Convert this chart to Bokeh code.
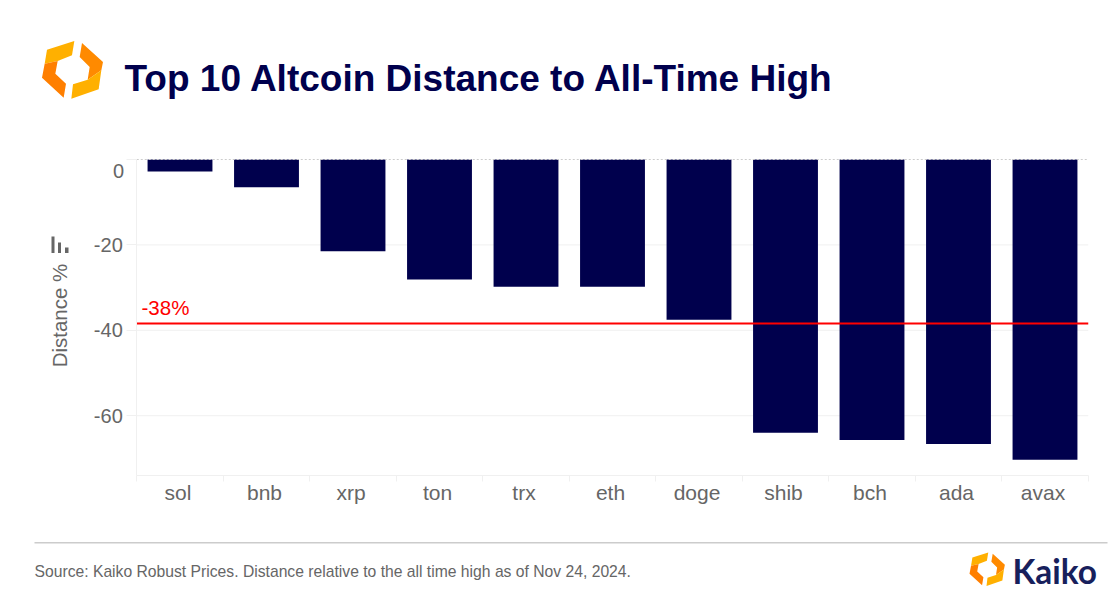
from bokeh.plotting import figure
from bokeh.embed import file_html
from bokeh.resources import INLINE
from bokeh.models import (ColumnDataSource, Range1d, LinearAxis,
                          FixedTicker, Label, PolyAnnotation, BoxAnnotation)

coins = ["sol", "bnb", "xrp", "ton", "trx", "eth", "doge", "shib", "bch", "ada", "avax"]
distance = [-2.8, -6.5, -21.5, -28.1, -29.8, -29.8, -37.5, -64.0, -65.7, -66.6, -70.3]
average = -38.4
average_label = "-38%"
y_ticks = [0, -20, -40, -60]
y_floor = -74

W, H = 1120, 609
FL, FR, FT, FB = 136.25, 1087.75, 159, 475   # chart area in page pixels
FONT = "Liberation Sans"
GREY = "#666666"
NAVY = "#00004d"
LIGHT = "#f0f0f0"
N = len(coins)
centers = [i + 0.5 for i in range(N)]

# the frame fills the page, so that every text and logo can sit inside it
px_x = (FR - FL) / N
px_y = (FB - FT) / -y_floor
p = figure(width=W, height=H, output_backend="svg", toolbar_location=None,
           x_range=Range1d(-FL / px_x, (W - FL) / px_x),
           y_range=Range1d(-(H - FT) / px_y, FT / px_y),
           x_axis_type=None, y_axis_type=None,
           min_border_left=0, min_border_right=0, min_border_top=0, min_border_bottom=0)
p.outline_line_color = None
p.background_fill_color = "white"
p.border_fill_color = "white"
p.grid.visible = False

# grid lines, limited to the chart area
grid_ticks = [t for t in y_ticks if t != 0]
p.segment(x0=[0] * len(grid_ticks), x1=[N] * len(grid_ticks), y0=grid_ticks, y1=grid_ticks,
          line_color=LIGHT, line_width=1)

# y axis
overrides = {t: str(t) for t in y_ticks}
overrides[0] = ""
yax = LinearAxis(ticker=FixedTicker(ticks=y_ticks), fixed_location=0, bounds=(y_floor, 0),
                 major_label_overrides=overrides,
                 major_label_text_font=FONT, major_label_text_font_size="20px",
                 major_label_text_color=GREY, major_label_standoff=4,
                 major_tick_in=0, major_tick_out=10, major_tick_line_color=LIGHT,
                 minor_tick_line_color=None, axis_line_color=LIGHT)
p.add_layout(yax, "left")

# x axes: one draws the category edges, the other the labels
edge_ax = LinearAxis(ticker=FixedTicker(ticks=list(range(N + 1))), fixed_location=y_floor, bounds=(0, N),
                     major_label_overrides={i: "" for i in range(N + 1)},
                     major_label_text_font_size="1px", major_label_standoff=0,
                     major_tick_in=0, major_tick_out=6, major_tick_line_color=LIGHT,
                     minor_tick_line_color=None, axis_line_color=LIGHT)
p.add_layout(edge_ax, "below")
label_ticks = [c - 2 / px_x for c in centers]
xax = LinearAxis(ticker=FixedTicker(ticks=label_ticks), fixed_location=y_floor, bounds=(0, N),
                 major_label_overrides=dict(zip(label_ticks, coins)),
                 major_label_text_font=FONT, major_label_text_font_size="21px",
                 major_label_text_color=GREY, major_label_standoff=-1,
                 major_tick_line_color=None, minor_tick_line_color=None, axis_line_color=None)
p.add_layout(xax, "below")

src = ColumnDataSource(dict(x=centers, distance=distance, zero=[0] * N))
p.vbar(x="x", top="zero", bottom="distance", width=0.75, source=src,
       fill_color=NAVY, line_color=None)

p.segment(x0=[0], x1=[N], y0=[0], y1=[0], line_color="#cccccc", line_dash="2 2", line_width=1)
p.segment(x0=[0], x1=[N], y0=[average], y1=[average], line_color="#ff0000", line_width=1.8)

# screen units of annotations run from the frame's left and bottom edges
def sy(y):
    return H - y

def label(text, x, y, size, color=GREY, weight="normal", font=FONT, align="left", baseline="middle", angle=0):
    p.add_layout(Label(text=text, x=x, y=sy(y), x_units="screen", y_units="screen",
                       text_font=font, text_font_size=f"{size}px", text_color=color,
                       text_font_style=weight, text_align=align, text_baseline=baseline,
                       angle=angle, angle_units="deg"))

label("0", 118, 170, 20, align="center")
label(average_label, 141, 307, 20.5, color="#ff0000")
label("Distance %", 59, 315, 20.5, align="center", angle=90)
label("Top 10 Altcoin Distance to All-Time High", 124, 78, 37, color=NAVY, weight="bold")
label("Source: Kaiko Robust Prices. Distance relative to the all time high as of Nov 24, 2024.", 34, 571, 15.7)
label("Kaiko", 1012, 570, 33.4, color="#17205c", weight="bold", font="Lato")

def poly(points, color):
    p.add_layout(PolyAnnotation(xs=[a for a, b in points], ys=[sy(b) for a, b in points],
                                xs_units="screen", ys_units="screen",
                                fill_color=color, fill_alpha=1, line_color=None))

def logo(x0, y0, s):
    # outline traced in a 300x180 crop at 3x zoom
    def t(pts):
        return [(x0 + (a - 125) / 3 * s, y0 + (b - 62) / 3 * s) for a, b in pts]
    poly(t([(222, 62), (140, 88), (133, 130), (172, 122), (215, 105)]), "#ffb000")
    poly(t([(133, 130), (125, 172), (190, 232), (197, 190), (165, 160), (172, 122)]), "#ff7f00")
    poly(t([(245, 68), (308, 125), (303, 150), (262, 178), (268, 140), (238, 110)]), "#ff8a00")
    poly(t([(303, 150), (295, 207), (213, 235), (218, 192), (262, 178)]), "#ffb000")

logo(41.5, 40.5, 1.0)
logo(969, 552, 0.58)

def box(l, r, t_, b, color):
    p.add_layout(BoxAnnotation(left=l, right=r, top=sy(t_), bottom=sy(b),
                               left_units="screen", right_units="screen", top_units="screen", bottom_units="screen",
                               fill_color=color, fill_alpha=1, line_color=None))

# footer rule and small axis icon
box(34, 1107, 541.5, 543, "#cccccc")
for l, r, t_ in [(51, 54, 236), (57.5, 60.5, 242), (64.5, 68, 247)]:
    box(l, r, t_, 252.5, GREY)

open("out.html", "w").write(file_html(p, INLINE))
